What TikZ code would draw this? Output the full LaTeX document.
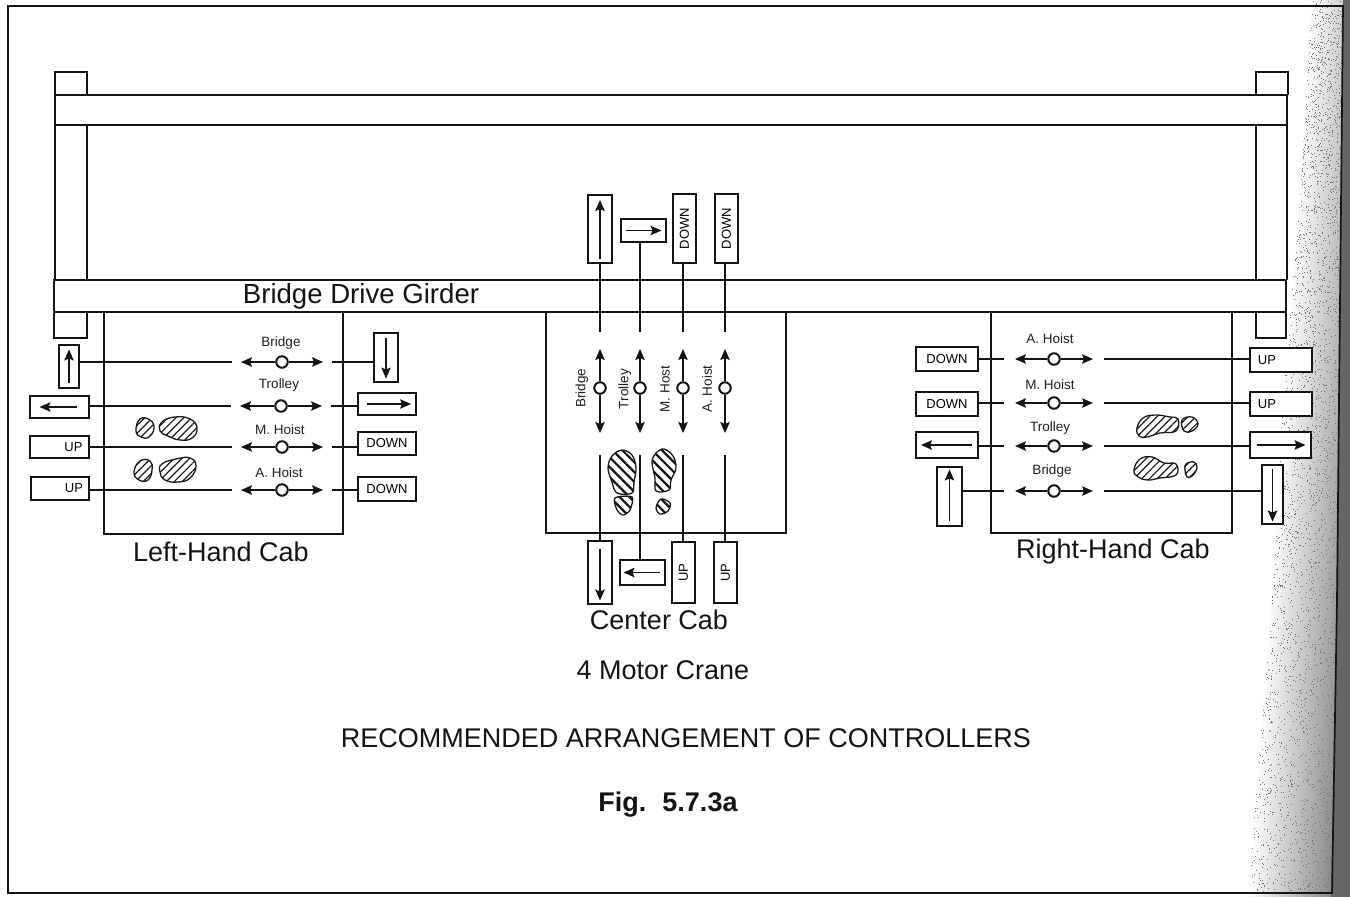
\documentclass[tikz,border=0pt]{standalone}
\usepackage{fontspec}
\setmainfont{Liberation Sans}
\usetikzlibrary{arrows.meta,calc,patterns.meta}
\tikzset{
  x=1pt,y=-1pt,
  ln/.style={line width=1.6pt,black!92},
  wire/.style={line width=1.4pt,black!92},
  cbox/.style={draw=black!92,line width=1.8pt,fill=white,inner sep=0pt,font=\fontsize{13}{14}\selectfont},
  knob/.style={circle,draw=black!92,line width=2pt,fill=white,minimum size=11.5pt,inner sep=0pt},
  arr/.style={line width=1.4pt,black!92,-{Stealth[length=11pt,width=9.5pt,inset=2pt]}},
  lab/.style={inner sep=0pt,font=\fontsize{13.5}{15}\selectfont,black!88},
  big/.style={inner sep=0pt,font=\fontsize{27}{30}\selectfont,black!92},
  foot/.style={draw=black!90,line width=1.3pt,pattern={Lines[angle=45,distance=5.5pt,line width=1.2pt]},pattern color=black!90},
  footc/.style={draw=black!90,line width=1.3pt,pattern={Lines[angle=-45,distance=7pt,line width=2.2pt]},pattern color=black!92}
}
\newcommand{\bx}[6]{\node[cbox,minimum width={(#4-#2)*1pt},minimum height={(#5-#3)*1pt}] (#1) at ({(#2+#4)/2},{(#3+#5)/2}) {#6};}
\newcommand{\hctrl}[5]{%
  \node[knob] (#1) at (#3,#2) {};
  \coordinate (#1l) at ({#3-#4},#2);
  \coordinate (#1r) at ({#3+#4},#2);
  \coordinate (#1gl) at ({#3-#5},#2);
  \coordinate (#1gr) at ({#3+#5},#2);
  \draw[arr] (#1) -- (#1l);
  \draw[arr] (#1) -- (#1r);
}
\newcommand{\vctrl}[2]{%
  \node[knob] (#1) at (#2,388) {};
  \coordinate (#1t) at (#2,349);
  \coordinate (#1b) at (#2,433);
  \coordinate (#1gt) at (#2,332);
  \coordinate (#1gb) at (#2,455);
  \draw[arr] (#1) -- (#1t);
  \draw[arr] (#1) -- (#1b);
}
\newcommand{\inarrow}[5]{\draw[arr] ($(#1.center)+(#2,#3)$) -- ($(#1.center)+(#4,#5)$);}
\begin{document}
\begin{tikzpicture}
\useasboundingbox (0,0) rectangle (1350,897);
\fill[white] (0,0) rectangle (1350,897);
% page-edge shading
\begin{scope}
\clip (1312,0) -- (1300,200) -- (1283,400) -- (1272,600) -- (1248,893) -- (1248,897) -- (1350,897) -- (1350,0) -- cycle;
\begin{scope}[transform canvas={xslant=0.07}]
\shade[left color=white,middle color=black!20,right color=black!50] (1310,-20) rectangle (1400,920);
\end{scope}
\pgfmathsetseed{4242}
\foreach \i in {1,...,3000}{
  \pgfmathsetmacro{\dy}{rnd*892}
  \pgfmathsetmacro{\dl}{1310-0.069*\dy}
  \pgfmathsetmacro{\dr}{1343-0.0134*\dy}
  \pgfmathsetmacro{\dx}{\dl+(\dr-\dl)*rnd}
  \fill[black!55] (\dx,\dy) rectangle ({\dx+1},{\dy+1});
}
\fill[black!60] (1343,0) -- (1337,600) -- (1331,897) -- (1350,897) -- (1350,0) -- cycle;
\end{scope}
% frame
\draw[line width=1.7pt,black!92] (8,893) -- (8,6) -- (1343,6) -- (1337,600) -- (1332,893) -- cycle;
% girder
\draw[ln] (55,95) -- (55,72) -- (87,72) -- (87,95);
\draw[ln] (55,125) -- (55,280);
\draw[ln] (87,125) -- (87,280);
\draw[ln] (54,312) -- (54,338) -- (87,338) -- (87,312);
\draw[ln] (1256,95) -- (1256,72) -- (1288,72) -- (1288,95);
\draw[ln] (1256,125) -- (1256,280);
\draw[ln] (1287,125) -- (1287,280);
\draw[ln] (1256,312) -- (1256,338) -- (1286,338) -- (1286,312);
\draw[ln] (55,95) rectangle (1287,125);
\draw[ln] (54,280) rectangle (1286,312);
\node[inner sep=0pt,font=\fontsize{27.6}{30}\selectfont,black!92] (girder) at (361,296) {Bridge Drive Girder};
% cabs
\draw[ln] (104,312) -- (104,534) -- (343,534) -- (343,312);
\draw[ln] (546,312) -- (546,533) -- (786,533) -- (786,312);
\draw[ln] (991,312) -- (991,533) -- (1232,533) -- (1232,312);
\node[big] (lcab) at (221,552) {Left-Hand Cab};
\node[big] (ccab) at (659,620) {Center Cab};
\node[big] (rcab) at (1113,552) {Right-Hand Cab};
\node[big] (crane) at (663,670) {4 Motor Crane};
\node[big] (rec) at (686,738) {RECOMMENDED ARRANGEMENT OF CONTROLLERS};
\node[inner sep=0pt,font=\bfseries\fontsize{27}{30}\selectfont,black!92] (fig) at (668,805) {Fig.\hspace{6pt} 5.7.3a};

% ---------- left cab
\hctrl{lA}{362}{282}{41}{50}
\hctrl{lB}{406}{281}{41}{50}
\hctrl{lC}{447}{282}{41}{50}
\hctrl{lD}{490}{282}{41}{50}
\node[lab] (lta) at (281,343) {Bridge};
\node[lab] (ltb) at (279,385) {Trolley};
\node[lab] (ltc) at (280,430) {M. Hoist};
\node[lab] (ltd) at (279,473) {A. Hoist};
\bx{lbA}{59}{345}{79}{388}{}
\bx{lbB}{30}{396}{89}{418}{}
\bx{lbC}{30}{436}{89}{458}{\hspace*{28pt}UP}
\bx{lbD}{31}{477}{89}{500}{\hspace*{28pt}UP}
\bx{rbA}{374}{333}{398}{382}{}
\bx{rbB}{358}{393}{416}{415}{}
\bx{rbC}{358}{432}{416}{455}{DOWN}
\bx{rbD}{358}{477}{416}{501}{DOWN}
\inarrow{lbA}{0}{16}{0}{-17}
\inarrow{lbB}{17}{0}{-20}{0}
\inarrow{rbA}{0}{-20}{0}{21}
\inarrow{rbB}{-20}{0}{24}{0}
\foreach \n/\l/\r in {lA/lbA/rbA,lB/lbB/rbB,lC/lbC/rbC,lD/lbD/rbD}{
  \draw[wire] (\l.east |- \n gl) -- (\n gl);
  \draw[wire] (\n gr) -- (\r.west |- \n gr);
}
\path[foot] plot[smooth cycle,tension=.8] coordinates {(140,419)(150,420)(154,428)(149,437)(141,437)(136,431)};
\path[foot] plot[smooth cycle,tension=.8] coordinates {(162,422)(175,417)(190,419)(197,428)(192,438)(180,440)(168,436)(160,431)};
\path[foot] plot[smooth cycle,tension=.8] coordinates {(140,461)(150,461)(152,470)(148,480)(139,480)(134,472)};
\path[foot] plot[smooth cycle,tension=.8] coordinates {(162,464)(176,459)(190,458)(196,466)(190,478)(178,482)(165,480)(160,472)};

% ---------- centre cab
\vctrl{cA}{600}
\vctrl{cB}{640}
\vctrl{cC}{683}
\vctrl{cD}{725}
\node[lab,rotate=90] (cta) at (582,388) {Bridge};
\node[lab,rotate=90] (ctb) at (625,389) {Trolley};
\node[lab,rotate=90] (ctc) at (665,389) {M. Host};
\node[lab,rotate=90] (ctd) at (707,389) {A. Hoist};
\draw[wire] (cA |- 0,200) -- (cAgt);
\draw[wire] (cB |- 0,242) -- (cBgt);
\draw[wire] (cC |- 0,263) -- (cCgt);
\draw[wire] (cD |- 0,263) -- (cDgt);
\draw[wire] (cAgb) -- (cA |- 0,541);
\draw[wire] (cBgb) -- (cB |- 0,560);
\draw[wire] (cCgb) -- (cC |- 0,542);
\draw[wire] (cDgb) -- (cD |- 0,542);
\bx{tbA}{588}{195}{612}{263}{}
\bx{tbB}{621}{219}{666}{242}{}
\node[cbox,minimum width=23pt,minimum height=69pt] (tbC) at (684.5,228.5) {\rotatebox{90}{DOWN}};
\node[cbox,minimum width=23pt,minimum height=69pt] (tbD) at (726.5,228.5) {\rotatebox{90}{DOWN}};
\bx{bbA}{588}{541}{612}{604}{}
\bx{bbB}{620}{560}{665}{585}{}
\node[cbox,minimum width=23pt,minimum height=61pt] (bbC) at (683.5,572.5) {\rotatebox{90}{UP}};
\node[cbox,minimum width=23pt,minimum height=61pt] (bbD) at (725.5,572.5) {\rotatebox{90}{UP}};
\inarrow{tbA}{0}{30}{0}{-29}
\inarrow{tbB}{-18}{0}{18}{0}
\inarrow{bbA}{0}{-24}{0}{28}
\inarrow{bbB}{17}{0}{-19}{0}
\path[footc] plot[smooth cycle,tension=.6] coordinates {(622,450)(632,455)(636,468)(634,482)(632,493)(617,493)(612,482)(608,468)(612,456)};
\path[footc] plot[smooth cycle,tension=.5] coordinates {(615,498)(632,497)(630,510)(623,515)(617,510)};
\path[footc] plot[smooth cycle,tension=.6] coordinates {(664,449)(673,456)(676,468)(671,480)(669,490)(656,491)(655,478)(652,462)(656,453)};
\path[footc] plot[smooth cycle,tension=.6] coordinates {(661,499)(670,503)(668,511)(660,514)(656,508)};

% ---------- right cab
\hctrl{rA}{359}{1054}{39}{50}
\hctrl{rB}{403}{1054}{39}{50}
\hctrl{rC}{446}{1054}{39}{50}
\hctrl{rD}{491}{1054}{39}{50}
\node[lab] (rta) at (1050,339) {A. Hoist};
\node[lab] (rtb) at (1050,385) {M. Hoist};
\node[lab] (rtc) at (1050,428) {Trolley};
\node[lab] (rtd) at (1052,471) {Bridge};
\bx{qbA}{916}{347}{978}{371}{DOWN}
\bx{qbB}{916}{392}{978}{416}{DOWN}
\bx{qbC}{916}{432}{978}{458}{}
\bx{qbD}{937}{467}{962}{526}{}
\bx{sbA}{1250}{348}{1312}{372}{\hspace*{-28pt}UP}
\bx{sbB}{1250}{392}{1312}{416}{\hspace*{-28pt}UP}
\bx{sbC}{1250}{432}{1311}{458}{}
\bx{sbD}{1262}{465}{1283}{524}{}
\inarrow{qbC}{25}{0}{-26}{0}
\inarrow{qbD}{0}{24}{0}{-27}
\inarrow{sbC}{-24}{0}{25}{0}
\inarrow{sbD}{0}{-26}{0}{27}
\foreach \n/\l/\r in {rA/qbA/sbA,rB/qbB/sbB,rC/qbC/sbC,rD/qbD/sbD}{
  \draw[wire] (\l.east |- \n gl) -- (\n gl);
  \draw[wire] (\n gr) -- (\r.west |- \n gr);
}
\path[foot] plot[smooth cycle,tension=.7] coordinates {(1137,428)(1143,418)(1155,415)(1170,417)(1178,419)(1176,431)(1160,433)(1147,437)(1139,436)};
\path[foot] plot[smooth cycle,tension=.7] coordinates {(1182,420)(1192,417)(1198,424)(1192,431)(1184,431)};
\path[foot] plot[smooth cycle,tension=.7] coordinates {(1134,470)(1140,459)(1152,457)(1164,463)(1176,464)(1176,475)(1160,478)(1148,480)(1138,477)};
\path[foot] plot[smooth cycle,tension=.7] coordinates {(1186,464)(1194,462)(1197,468)(1192,476)(1187,477)(1185,470)};
\end{tikzpicture}
\end{document}
